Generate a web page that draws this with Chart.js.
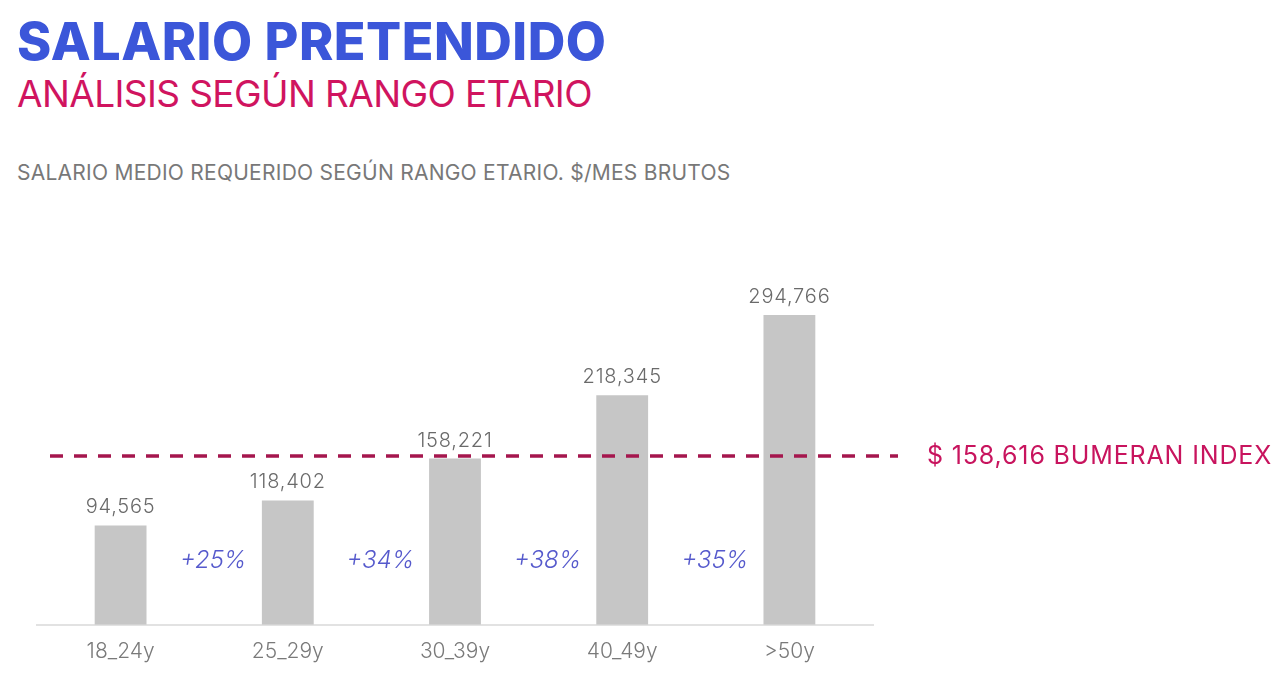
<!DOCTYPE html>
<html lang="es">
<head>
<meta charset="utf-8">
<title>Salario pretendido</title>
<script src="https://cdn.jsdelivr.net/npm/chart.js@4.4.1/dist/chart.umd.min.js"></script>
<style>
  html, body { margin: 0; padding: 0; background: #fff; }
  body { width: 1280px; height: 688px; position: relative; overflow: hidden; font-family: "Inter", "Lato", sans-serif; }
  .txt { position: absolute; left: 17px; white-space: nowrap; line-height: 1; }
  #title { top: 16px; font-size: 52px; font-weight: 800; color: #3b56d9; letter-spacing: 0.5px; }
  #subtitle { top: 75px; font-size: 37px; font-weight: 400; color: #d0145f; letter-spacing: -0.6px; }
  #note { top: 162px; font-size: 21px; font-weight: 400; color: #787878; letter-spacing: 0.25px; }
  #wrap { position: absolute; left: 0; top: 0; width: 1280px; height: 688px; }
</style>
</head>
<body>
<div id="title" class="txt">SALARIO PRETENDIDO</div>
<div id="subtitle" class="txt">ANÁLISIS SEGÚN RANGO ETARIO</div>
<div id="note" class="txt">SALARIO MEDIO REQUERIDO SEGÚN RANGO ETARIO. $/MES BRUTOS</div>
<div id="wrap"><canvas id="salaryChart"></canvas></div>

<script>
// datos del grafico
const ageGroups = ["18_24y", "25_29y", "30_39y", "40_49y", ">50y"];
const salaries = [94565, 118402, 158221, 218345, 294766];
const growthLabels = ["+25%", "+34%", "+38%", "+35%"];
const bumeranIndex = 158616;
const indexLabel = "$ 158,616 BUMERAN INDEX";

// labels over bars, dashed index line, growth between bars
const overlayPlugin = {
    id: "overlay",
    afterDatasetsDraw(chart) {
        const { ctx, chartArea, scales } = chart;
        const meta = chart.getDatasetMeta(0);
        ctx.save();

        // value labels
        ctx.font = "300 20px Inter, Lato, sans-serif";
        ctx.letterSpacing = "0.8px";
        ctx.fillStyle = "#6a6a6a";
        ctx.textAlign = "center";
        ctx.textBaseline = "alphabetic";
        meta.data.forEach((bar, i) => {
            ctx.fillText(salaries[i].toLocaleString("en-US"), bar.x, bar.y - 12);
        });

        // growth % between bars
        ctx.font = "italic 300 24px Inter, Lato, sans-serif";
        ctx.letterSpacing = "0px";
        ctx.fillStyle = "#5559cc";
        ctx.textBaseline = "middle";
        growthLabels.forEach((txt, i) => {
            const x = (meta.data[i].x + meta.data[i + 1].x) / 2 + 9;
            ctx.fillText(txt, x, chartArea.bottom - 64);
        });

        // dashed index line
        const yIdx = scales.y.getPixelForValue(bumeranIndex);
        ctx.strokeStyle = "#a5164d";
        ctx.lineWidth = 3.5;
        ctx.setLineDash([13, 11]);
        ctx.beginPath();
        ctx.moveTo(chartArea.left + 13, yIdx - 2);
        ctx.lineTo(chartArea.right + 25, yIdx - 2);
        ctx.stroke();
        ctx.setLineDash([]);

        ctx.font = "400 25px Inter, Lato, sans-serif";
        ctx.letterSpacing = "0.85px";
        ctx.fillStyle = "#c8145e";
        ctx.textAlign = "left";
        ctx.fillText(indexLabel, chartArea.right + 54, yIdx - 2);

        ctx.restore();
    }
};

new Chart(document.getElementById("salaryChart"), {
    type: "bar",
    data: {
        labels: ageGroups,
        datasets: [{
            label: "Salario medio",
            data: salaries,
            backgroundColor: "#c6c6c6",
            categoryPercentage: 1,
            barPercentage: 0.31
        }]
    },
    options: {
        responsive: true,
        maintainAspectRatio: false,
        animation: false,
        layout: { padding: { left: 37, right: 407, top: 257, bottom: 10 } },
        plugins: {
            legend: { display: false },
            tooltip: { enabled: false }
        },
        scales: {
            x: {
                grid: { display: false, drawTicks: false },
                border: { color: "#e2e2e2", width: 2 },
                ticks: { color: "#7a7a7a", padding: 14, font: { family: "Inter", size: 21, weight: 300 } }
            },
            y: { display: false, min: 0, max: 350000 }
        }
    },
    plugins: [overlayPlugin]
});
</script>
</body>
</html>
